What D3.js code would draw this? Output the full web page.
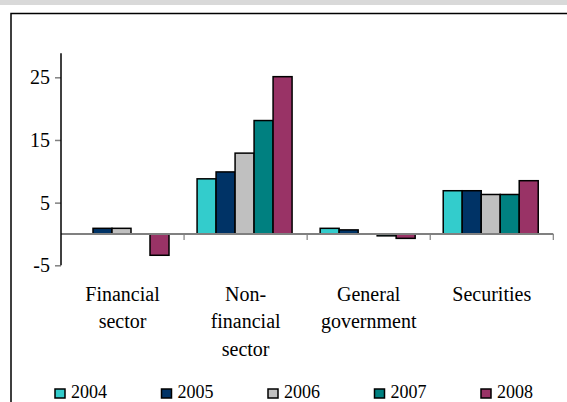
<!DOCTYPE html>
<html><head><meta charset="utf-8">
<script src="https://cdn.jsdelivr.net/npm/d3@7"></script>
<style>body{margin:0;background:#fff}svg{display:block}</style>
</head><body><svg id="c" width="567" height="402"></svg>
<script>
const categories = [["Financial","sector"],["Non-","financial","sector"],["General","government"],["Securities"]];
const categoryKeys = ["Financial sector","Non-financial sector","General government","Securities"];
const years = ["2004","2005","2006","2007","2008"];
const colors = ["#33CCCC","#003366","#C0C0C0","#008080","#993366"];
const values = {
  "2004": [0, 8.8, 0.9, 6.9],
  "2005": [0.9, 9.9, 0.65, 6.9],
  "2006": [0.9, 12.9, 0, 6.3],
  "2007": [0, 18.1, -0.3, 6.3],
  "2008": [-3.4, 25.1, -0.7, 8.5]
};
const yTicks = [-5, 5, 15, 25];
const FONT = "'Liberation Serif','Times New Roman',serif";

const svg = d3.select("#c");
// top grey band
svg.append("rect").attr("x",0).attr("y",0).attr("width",567).attr("height",5).attr("fill","#d9d9d9");
// frame
svg.append("rect").attr("x",11).attr("y",13.5).attr("width",600).attr("height",420).attr("fill","none").attr("stroke","#000").attr("stroke-width",1.5);

const x0 = d3.scaleBand().domain(categoryKeys).range([61, 553.3]).padding(0);
const x1 = d3.scaleBand().domain(years).range([13, 108]).padding(0);
const y = d3.scaleLinear().domain([-5, 28.83]).range([265.3, 53.3]);

// bars
categoryKeys.forEach((c, ci) => {
  years.forEach((yr, yi) => {
    const v = values[yr][ci];
    if (v === 0) return;
    svg.append("rect")
      .attr("x", x0(c) + x1(yr))
      .attr("y", y(Math.max(0, v)))
      .attr("width", x1.bandwidth())
      .attr("height", Math.abs(y(v) - y(0)))
      .attr("fill", colors[yi]).attr("stroke", "#000").attr("stroke-width", 1.5);
  });
});

// zero line + category ticks
svg.append("line").attr("x1",61).attr("x2",553.3).attr("y1",y(0)).attr("y2",y(0)).attr("stroke","#808080").attr("stroke-width",2);
categoryKeys.forEach(c => {
  const xx = x0(c) + x0.bandwidth();
  svg.append("line").attr("x1",xx).attr("x2",xx).attr("y1",y(0)).attr("y2",y(0)+6).attr("stroke","#808080").attr("stroke-width",1.2);
});

// y axis
const yAxis = d3.axisLeft(y).tickValues(yTicks).tickSize(6).tickPadding(5).tickFormat(d => String(d));
const ga = svg.append("g").attr("transform","translate(61,0)").call(yAxis);
ga.attr("font-family", FONT).attr("font-size", 20);
ga.select(".domain").remove();
ga.selectAll(".tick line").attr("stroke","#808080").attr("stroke-width",1.5);
ga.selectAll(".tick text").style("font-family", FONT).style("font-size","20px").attr("fill","#000");
svg.append("line").attr("x1",61).attr("x2",61).attr("y1",53.3).attr("y2",265.3).attr("stroke","#000").attr("stroke-width",1.5);

// category labels
categoryKeys.forEach((c, ci) => {
  const cx = x0(c) + x0.bandwidth()/2;
  categories[ci].forEach((line, li) => {
    svg.append("text").attr("x",cx).attr("y",300.7 + li*27.6).attr("text-anchor","middle")
      .style("font-family", FONT).style("font-size","20px").text(line);
  });
});

// legend
const lx = [55, 161.5, 268, 374.5, 481];
years.forEach((yr, i) => {
  svg.append("rect").attr("x",lx[i]).attr("y",389).attr("width",10).attr("height",9).attr("fill",colors[i]).attr("stroke","#000").attr("stroke-width",1.5);
  svg.append("text").attr("x",lx[i]+16).attr("y",398).style("font-family", FONT).style("font-size","18px").text(yr);
});
</script></body></html>
